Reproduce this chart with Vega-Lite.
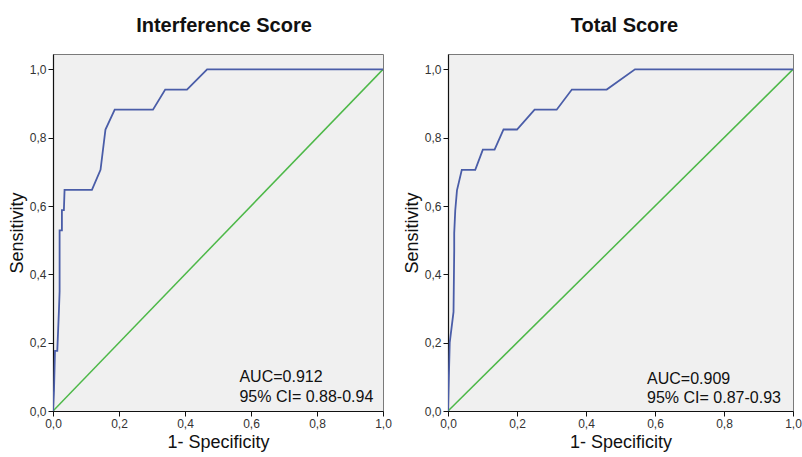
{
  "$schema": "https://vega.github.io/schema/vega-lite/v6.json",
  "background": "white",
  "padding": {"left": 7, "top": 15, "right": 2, "bottom": 2},
  "spacing": 10,
  "datasets": {
    "interference": [
      {"fpr": 0.0, "tpr": 0.0},
      {"fpr": 0.003, "tpr": 0.06},
      {"fpr": 0.006, "tpr": 0.176},
      {"fpr": 0.013, "tpr": 0.176},
      {"fpr": 0.018, "tpr": 0.294},
      {"fpr": 0.02, "tpr": 0.35},
      {"fpr": 0.02, "tpr": 0.529},
      {"fpr": 0.027, "tpr": 0.529},
      {"fpr": 0.027, "tpr": 0.588},
      {"fpr": 0.033, "tpr": 0.588},
      {"fpr": 0.035, "tpr": 0.647},
      {"fpr": 0.118, "tpr": 0.647},
      {"fpr": 0.144, "tpr": 0.706},
      {"fpr": 0.159, "tpr": 0.824},
      {"fpr": 0.187, "tpr": 0.882},
      {"fpr": 0.303, "tpr": 0.882},
      {"fpr": 0.34, "tpr": 0.941},
      {"fpr": 0.406, "tpr": 0.941},
      {"fpr": 0.467, "tpr": 1.0},
      {"fpr": 1.0, "tpr": 1.0}
    ],
    "total": [
      {"fpr": 0.0, "tpr": 0.0},
      {"fpr": 0.005, "tpr": 0.2},
      {"fpr": 0.016, "tpr": 0.29},
      {"fpr": 0.018, "tpr": 0.47},
      {"fpr": 0.018, "tpr": 0.52},
      {"fpr": 0.021, "tpr": 0.587},
      {"fpr": 0.026, "tpr": 0.646},
      {"fpr": 0.04, "tpr": 0.706},
      {"fpr": 0.079, "tpr": 0.706},
      {"fpr": 0.101, "tpr": 0.765},
      {"fpr": 0.135, "tpr": 0.765},
      {"fpr": 0.161, "tpr": 0.824},
      {"fpr": 0.2, "tpr": 0.824},
      {"fpr": 0.251, "tpr": 0.882},
      {"fpr": 0.315, "tpr": 0.882},
      {"fpr": 0.359, "tpr": 0.941},
      {"fpr": 0.46, "tpr": 0.941},
      {"fpr": 0.542, "tpr": 1.0},
      {"fpr": 1.0, "tpr": 1.0}
    ],
    "diag": [
      {"fpr": 0, "tpr": 0},
      {"fpr": 1, "tpr": 1}
    ],
    "noteL": [
      {"fpr": 0.565, "tpr": 0.099, "label": "AUC=0.912"},
      {"fpr": 0.565, "tpr": 0.04, "label": "95% CI= 0.88-0.94"}
    ],
    "noteR": [
      {"fpr": 0.577, "tpr": 0.095, "label": "AUC=0.909"},
      {"fpr": 0.577, "tpr": 0.037, "label": "95% CI= 0.87-0.93"}
    ]
  },
  "hconcat": [
    {
      "width": 330,
      "height": 357,
      "title": {"text": "Interference Score", "offset": 18, "dx": 6},
      "layer": [
        {
          "data": {"name": "diag"},
          "mark": {"type": "line", "color": "#4DB848", "strokeWidth": 1.5, "clip": true},
          "encoding": {
            "x": {"field": "fpr", "type": "quantitative"},
            "y": {"field": "tpr", "type": "quantitative"}
          }
        },
        {
          "data": {"name": "interference"},
          "mark": {"type": "line", "color": "#4A5DA8", "strokeWidth": 1.8, "clip": true},
          "encoding": {
            "x": {"field": "fpr", "type": "quantitative", "scale": {"domain": [0, 1], "nice": false}, "title": "1- Specificity", "axis": {"values": [0, 0.2, 0.4, 0.6, 0.8, 1.0]}},
            "y": {"field": "tpr", "type": "quantitative", "scale": {"domain": [0, 1.045], "nice": false}, "title": "Sensitivity", "axis": {"values": [0, 0.2, 0.4, 0.6, 0.8, 1.0]}},
            "order": {"field": "fpr"}
          }
        },
        {
          "data": {"name": "noteL"},
          "mark": {"type": "text", "align": "left", "baseline": "middle", "fontSize": 16, "font": "Liberation Sans", "color": "#111"},
          "encoding": {
            "x": {"field": "fpr", "type": "quantitative"},
            "y": {"field": "tpr", "type": "quantitative"},
            "text": {"field": "label"}
          }
        }
      ]
    },
    {
      "width": 345,
      "height": 357,
      "title": {"text": "Total Score", "offset": 18, "dx": 4},
      "layer": [
        {
          "data": {"name": "diag"},
          "mark": {"type": "line", "color": "#4DB848", "strokeWidth": 1.5, "clip": true},
          "encoding": {
            "x": {"field": "fpr", "type": "quantitative"},
            "y": {"field": "tpr", "type": "quantitative"}
          }
        },
        {
          "data": {"name": "total"},
          "mark": {"type": "line", "color": "#4A5DA8", "strokeWidth": 1.8, "clip": true},
          "encoding": {
            "x": {"field": "fpr", "type": "quantitative", "scale": {"domain": [0, 1], "nice": false}, "title": "1- Specificity", "axis": {"values": [0, 0.2, 0.4, 0.6, 0.8, 1.0]}},
            "y": {"field": "tpr", "type": "quantitative", "scale": {"domain": [0, 1.045], "nice": false}, "title": "Sensitivity", "axis": {"values": [0, 0.2, 0.4, 0.6, 0.8, 1.0]}},
            "order": {"field": "fpr"}
          }
        },
        {
          "data": {"name": "noteR"},
          "mark": {"type": "text", "align": "left", "baseline": "middle", "fontSize": 16, "font": "Liberation Sans", "color": "#111"},
          "encoding": {
            "x": {"field": "fpr", "type": "quantitative"},
            "y": {"field": "tpr", "type": "quantitative"},
            "text": {"field": "label"}
          }
        }
      ]
    }
  ],
  "config": {
    "font": "Liberation Sans",
    "view": {"fill": "#F0F0F0", "stroke": "#7A7A7A", "strokeWidth": 1},
    "title": {"fontSize": 20, "fontWeight": "bold", "font": "Liberation Sans", "color": "#111", "anchor": "middle"},
    "axis": {
      "grid": false,
      "domainColor": "#111",
      "domainWidth": 1.2,
      "tickColor": "#111",
      "tickSize": 5,
      "labelFont": "Liberation Sans",
      "labelFontSize": 12,
      "labelColor": "#333",
      "labelPadding": 2,
      "titleFont": "Liberation Sans",
      "titleFontSize": 18,
      "titleFontWeight": "normal",
      "titleColor": "#111",
      "labelExpr": "replace(format(datum.value, '.1f'), '.', ',')"
    },
    "axisX": {"titlePadding": 4, "labelFlush": false},
    "axisY": {"titlePadding": 3, "labelFlush": false}
  }
}
